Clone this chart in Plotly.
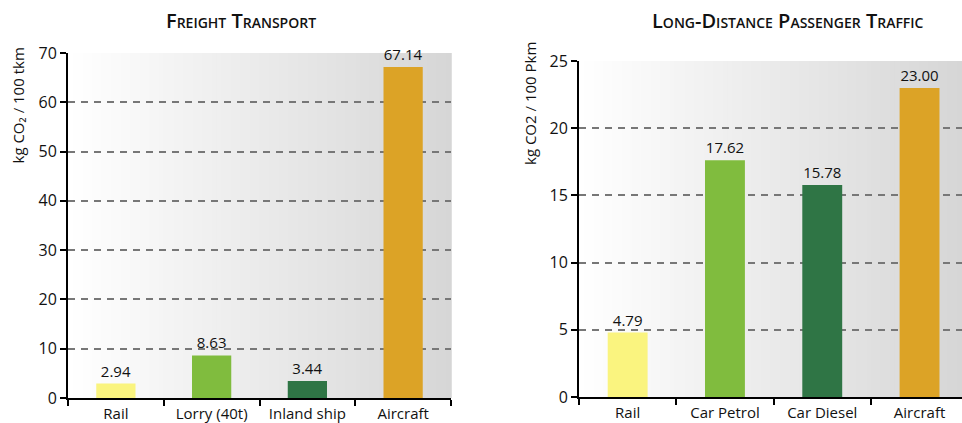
import plotly.graph_objects as go

# Emission factors per transport mode
freight_modes = ["Rail", "Lorry (40t)", "Inland ship", "Aircraft"]
freight_values = [2.94, 8.63, 3.44, 67.14]

passenger_modes = ["Rail", "Car Petrol", "Car Diesel", "Aircraft"]
passenger_values = [4.79, 17.62, 15.78, 23.00]

bar_colors = ["#FAF47F", "#80BC3E", "#2F7545", "#DCA326"]

freight_ticks = [0, 10, 20, 30, 40, 50, 60, 70]
passenger_ticks = [0, 5, 10, 15, 20, 25]

W, H = 962, 423
FONT = "Open Sans"

fig = go.Figure()

fig.add_trace(go.Bar(
    x=freight_modes, y=freight_values, marker_color=bar_colors,
    marker_line_width=0, width=0.41,
    texttemplate="%{y:.2f}", textposition="outside", cliponaxis=False,
    textfont=dict(size=15, color="#111111", family=FONT),
    xaxis="x", yaxis="y", showlegend=False, hoverinfo="x+y",
))
fig.add_trace(go.Bar(
    x=passenger_modes, y=passenger_values, marker_color=bar_colors,
    marker_line_width=0, width=0.41,
    texttemplate="%{y:.2f}", textposition="outside", cliponaxis=False,
    textfont=dict(size=15, color="#111111", family=FONT),
    xaxis="x2", yaxis="y2", showlegend=False, hoverinfo="x+y",
))

# Horizontal white-to-grey gradient behind each plot area
shapes = []
n_strips = 80
for xref, yref in (("x domain", "y domain"), ("x2 domain", "y2 domain")):
    for i in range(n_strips):
        t = (i + 0.5) / n_strips
        g = round(255 - t * 41)
        shapes.append(dict(
            type="rect", xref=xref, yref=yref,
            x0=i / n_strips, x1=(i + 1) / n_strips + 0.002, y0=0, y1=1,
            fillcolor=f"rgb({g},{g},{g})", line_width=0, layer="below",
        ))

left_dom = [68 / W, 451 / W]
right_dom = [579 / W, 1.0]
cat_w = 97.3
right_range = [-0.5, -0.5 + (W - 579) / cat_w]

axis_common = dict(
    showline=True, linecolor="black", linewidth=2, automargin=False,
    ticks="outside", tickcolor="black", tickwidth=2, ticklen=6,
    tickfont=dict(size=15, color="#111111", family=FONT),
)
yaxis_common = dict(
    axis_common, showgrid=True, gridcolor="#777777", gridwidth=1.5,
    griddash="7px,6px", zeroline=False,
    tickfont=dict(size=16, color="#111111", family=FONT),
)

title_font = dict(size=20, family=FONT, variant="small-caps",
                  weight=600, color="#111111")
ytitle_font = dict(size=15, family=FONT, color="#111111")

fig.update_layout(
    width=W, height=H, autosize=False,
    margin=dict(l=0, r=0, t=0, b=0, pad=0, autoexpand=False),
    paper_bgcolor="white", plot_bgcolor="rgba(0,0,0,0)",
    font=dict(family=FONT, color="#111111"),
    xaxis=dict(axis_common, domain=left_dom, anchor="y",
               tickson="boundaries", range=[-0.5, 3.5], ticklabelstandoff=1),
    yaxis=dict(yaxis_common, domain=[1 - 398 / H, 1 - 53 / H], anchor="x",
               range=[0, 70], tickvals=freight_ticks, ticklabelstandoff=0),
    xaxis2=dict(axis_common, domain=right_dom, anchor="y2",
                tickson="boundaries", range=right_range, ticklabelstandoff=1),
    yaxis2=dict(yaxis_common, domain=[1 - 397 / H, 1 - 61 / H], anchor="x2",
                range=[0, 25], tickvals=passenger_ticks, ticklabelstandoff=0),
    shapes=shapes,
    annotations=[
        dict(text="Freight Transport", x=241 / W, y=1 - 21 / H,
             xref="paper", yref="paper", xanchor="center", yanchor="middle",
             showarrow=False, font=title_font),
        dict(text="Long-Distance Passenger Traffic", x=788 / W, y=1 - 21 / H,
             xref="paper", yref="paper", xanchor="center", yanchor="middle",
             showarrow=False, font=title_font),
        dict(text="kg CO₂ / 100 tkm", x=18 / W, y=1 - 105.5 / H,
             xref="paper", yref="paper", xanchor="center", yanchor="middle",
             showarrow=False, textangle=-90, font=ytitle_font),
        dict(text="kg CO2 / 100 Pkm", x=530 / W, y=1 - 104 / H,
             xref="paper", yref="paper", xanchor="center", yanchor="middle",
             showarrow=False, textangle=-90, font=ytitle_font),
    ],
)

fig.write_html("out.html")
